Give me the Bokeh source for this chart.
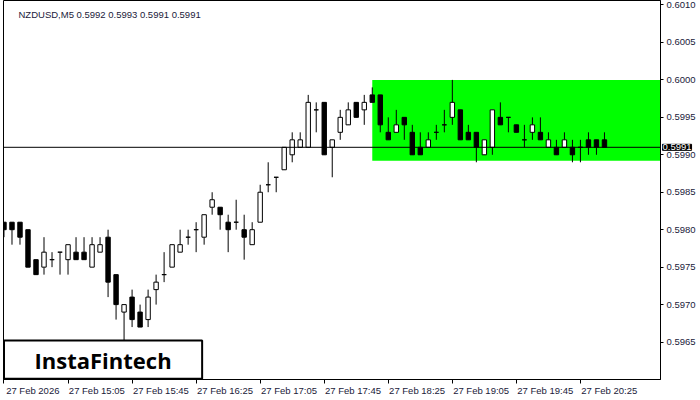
from bokeh.plotting import figure
from bokeh.models import FixedTicker, Span, Label, BoxAnnotation, PrintfTickFormatter, LinearAxis
from bokeh.core.properties import value
from bokeh.embed import file_html
from bokeh.resources import INLINE

# ---------------- data ----------------
symbol = "NZDUSD,M5"
opens = [0.5981, 0.5981, 0.5981, 0.5980, 0.5976, 0.5975, 0.5976, 0.5977, 0.5976, 0.5977,
         0.5977, 0.5975, 0.5977, 0.5979, 0.5974, 0.5969, 0.5971, 0.5969, 0.5968, 0.5972,
         0.5974, 0.5975, 0.5977, 0.5979, 0.5980, 0.5979, 0.5983, 0.5983, 0.5981, 0.5981,
         0.5980, 0.5978, 0.5981, 0.5986, 0.5987, 0.5988, 0.5990, 0.5991, 0.5991, 0.5996,
         0.5997, 0.5991, 0.5993, 0.5994, 0.5997, 0.5996, 0.5998, 0.5998, 0.5993, 0.5993,
         0.5995, 0.5993, 0.5991, 0.5991, 0.5993, 0.5994, 0.5995, 0.5996, 0.5993, 0.5993,
         0.5990, 0.5991, 0.5995, 0.5995, 0.5994, 0.5992, 0.5993, 0.5993, 0.5991, 0.5991,
         0.5991, 0.5991, 0.5991, 0.5992, 0.5992, 0.5992]
highs = [0.5981, 0.5981, 0.5981, 0.5980, 0.5976, 0.5979, 0.5977, 0.5977, 0.5978, 0.5979,
         0.5979, 0.5979, 0.5979, 0.5980, 0.5974, 0.5970, 0.5972, 0.5970, 0.5972, 0.5974,
         0.5977, 0.5978, 0.5980, 0.5980, 0.5981, 0.5982, 0.5985, 0.5983, 0.5982, 0.5984,
         0.5982, 0.5981, 0.5986, 0.5989, 0.5987, 0.5991, 0.5993, 0.5993, 0.5998, 0.5997,
         0.5997, 0.5992, 0.5996, 0.5997, 0.5997, 0.5998, 0.5999, 0.5998, 0.5995, 0.5996,
         0.5995, 0.5994, 0.5993, 0.5993, 0.5994, 0.5996, 0.6000, 0.5996, 0.5994, 0.5993,
         0.5992, 0.5996, 0.5997, 0.5995, 0.5994, 0.5994, 0.5995, 0.5995, 0.5993, 0.5992,
         0.5993, 0.5992, 0.5992, 0.5993, 0.5992, 0.5993]
lows = [0.5979, 0.5978, 0.5978, 0.5975, 0.5974, 0.5974, 0.5975, 0.5974, 0.5974, 0.5976,
        0.5976, 0.5975, 0.5977, 0.5971, 0.5968, 0.59652, 0.5967, 0.5967, 0.5967, 0.5970,
        0.5973, 0.5975, 0.5977, 0.5978, 0.5977, 0.5978, 0.5982, 0.5980, 0.5977, 0.5980,
        0.5976, 0.5978, 0.5981, 0.5985, 0.5985, 0.5988, 0.5989, 0.5991, 0.5991, 0.5993,
        0.5990, 0.5987, 0.5992, 0.5994, 0.5995, 0.5994, 0.5997, 0.5993, 0.5992, 0.5993,
        0.5992, 0.5990, 0.5990, 0.5991, 0.5992, 0.5993, 0.5994, 0.5992, 0.5992, 0.5989,
        0.5990, 0.5990, 0.5994, 0.5993, 0.5993, 0.5991, 0.5992, 0.5992, 0.5991, 0.5990,
        0.5991, 0.5989, 0.5989, 0.5990, 0.5990, 0.5991]
closes = [0.5980, 0.5980, 0.5979, 0.5975, 0.5974, 0.5977, 0.5976, 0.5977, 0.5978, 0.5976,
          0.5976, 0.5978, 0.5978, 0.5973, 0.5970, 0.5970, 0.5968, 0.5967, 0.5971, 0.5973,
          0.5974, 0.5978, 0.5978, 0.5979, 0.5980, 0.5982, 0.5984, 0.5982, 0.5980, 0.5981,
          0.5979, 0.5980, 0.5985, 0.5986, 0.5987, 0.5991, 0.5992, 0.5992, 0.5997, 0.5996,
          0.5990, 0.5992, 0.5995, 0.5996, 0.5995, 0.5997, 0.5997, 0.5994, 0.5992, 0.5994,
          0.5994, 0.5990, 0.5990, 0.5992, 0.5993, 0.5994, 0.5997, 0.5992, 0.5992, 0.5991,
          0.5992, 0.5996, 0.5994, 0.5995, 0.5993, 0.5992, 0.5994, 0.5992, 0.5992, 0.5990,
          0.5992, 0.5990, 0.5991, 0.5991, 0.5991, 0.5991]
time_tick_index = [0, 8, 16, 24, 32, 40, 48, 56, 64, 72]
time_tick_labels = ["27 Feb 2026", "27 Feb 15:05", "27 Feb 15:45", "27 Feb 16:25",
                    "27 Feb 17:05", "27 Feb 17:45", "27 Feb 18:25", "27 Feb 19:05",
                    "27 Feb 19:45", "27 Feb 20:25"]
price_ticks = [0.5965, 0.5970, 0.5975, 0.5980, 0.5985, 0.5990, 0.5995, 0.6000, 0.6005, 0.6010]
last_price = 0.5991
zone_start_index = 46
zone_top = 0.6000
zone_bottom = 0.59892
brand = "InstaFintech"

# ---------------- layout / style ----------------
FONT = "Liberation Sans"
TXT = "#1a1a3a"
X_START, X_END = -0.06, 82.0
Y_MIN, Y_MAX = 0.5960, 0.60106
LABEL_SHIFT = 3.6   # time labels are written to the right of their tick

p = figure(width=700, height=400, x_range=(X_START, X_END), y_range=(Y_MIN, Y_MAX),
           output_backend="svg", toolbar_location=None, y_axis_location="right",
           min_border_left=3, min_border_top=0, min_border_right=40, min_border_bottom=21)
p.background_fill_color = "white"
p.border_fill_color = "white"
p.outline_line_color = "black"
p.outline_line_width = 1
p.xgrid.visible = False
p.ygrid.visible = False

# green zone
p.add_layout(BoxAnnotation(left=zone_start_index, top=zone_top, bottom=zone_bottom,
                           fill_color="#00ff00", fill_alpha=1.0, line_alpha=0,
                           level="underlay"))

idx = list(range(len(opens)))
tops = [max(o, c) for o, c in zip(opens, closes)]
bots = [min(o, c) for o, c in zip(opens, closes)]
fills = ["black" if c < o else "white" for o, c in zip(opens, closes)]

p.segment(x0=idx, y0=lows, x1=idx, y1=highs, line_color="black", line_width=1)
p.vbar(x=idx, width=0.55, top=tops, bottom=bots, fill_color=fills,
       line_color="black", line_width=1)

# current price line
p.add_layout(Span(location=last_price, dimension="width", line_color="black", line_width=1))

# x axis: tick marks only (closest to frame)
xa = p.xaxis[0]
xa.ticker = FixedTicker(ticks=time_tick_index)
xa.major_label_overrides = {i: "" for i in time_tick_index}
xa.major_label_text_font_size = "0px"
xa.major_label_standoff = 0
xa.major_tick_out = 4
xa.major_tick_in = 0
xa.minor_tick_line_color = None
xa.axis_line_color = "black"
xa.major_tick_line_color = "black"

# x axis: labels, written right of each tick
label_pos = [i + LABEL_SHIFT for i in time_tick_index]
xl = LinearAxis(ticker=FixedTicker(ticks=label_pos),
                major_label_overrides={pos: t for pos, t in zip(label_pos, time_tick_labels)},
                major_tick_out=0, major_tick_in=0, minor_tick_line_color=None,
                axis_line_color=None, major_tick_line_color=None,
                major_label_standoff=1, major_label_text_font=FONT,
                major_label_text_font_size="9.5px", major_label_text_color=TXT)
p.add_layout(xl, "below")

# y axis 1 (next to the frame): tick marks only
ya = p.yaxis[0]
ya.ticker = FixedTicker(ticks=price_ticks)
ya.major_label_overrides = {t: "" for t in price_ticks}
ya.major_label_text_font_size = "0px"
ya.major_label_standoff = 0
ya.major_tick_out = 3
ya.major_tick_in = 0
ya.minor_tick_line_color = None
ya.axis_line_color = "black"
ya.major_tick_line_color = "black"

# current price tag (side panel -> not clipped by the frame)
p.add_layout(Label(x=X_END, y=last_price, text="%.4f" % last_price, x_offset=2,
                   text_font=FONT, text_font_size="9.5px", text_color="white",
                   text_baseline="middle", text_align="left",
                   background_fill_color="black", border_line_color="black"), "right")

# y axis 2 (outermost): the price labels, pulled back over the tag strip
yl = LinearAxis(ticker=FixedTicker(ticks=price_ticks),
                formatter=PrintfTickFormatter(format="%.4f"),
                major_tick_out=0, major_tick_in=0, minor_tick_line_color=None,
                axis_line_color=None, major_tick_line_color=None,
                major_label_standoff=-26, major_label_text_font=FONT,
                major_label_text_font_size="9.5px", major_label_text_color=TXT)
p.add_layout(yl, "right")

# header text
header = "%s  %.4f %.4f %.4f %.4f" % (symbol, opens[-1], highs[-1], lows[-1], closes[-1])
p.add_layout(Label(x=X_START, y=Y_MAX, text=header, x_offset=15, y_offset=-8,
                   text_font=FONT, text_font_size="9.5px", text_color=TXT,
                   text_baseline="top", text_align="left"))

# brand box
box_left, box_right = 0.0, 24.75
box_top = 0.59652
p.quad(left=[box_left], right=[box_right], top=[box_top], bottom=[Y_MIN + 0.00001],
       fill_color="white", line_color="black", line_width=2)
p.text(x=[(box_left + box_right) / 2], y=[(box_top + Y_MIN) / 2], text=[brand],
       text_font=value("Open Sans"), text_font_size="22px", text_font_style="bold",
       text_color="black", text_align="center", text_baseline="middle")

open("out.html", "w").write(file_html(p, INLINE))
